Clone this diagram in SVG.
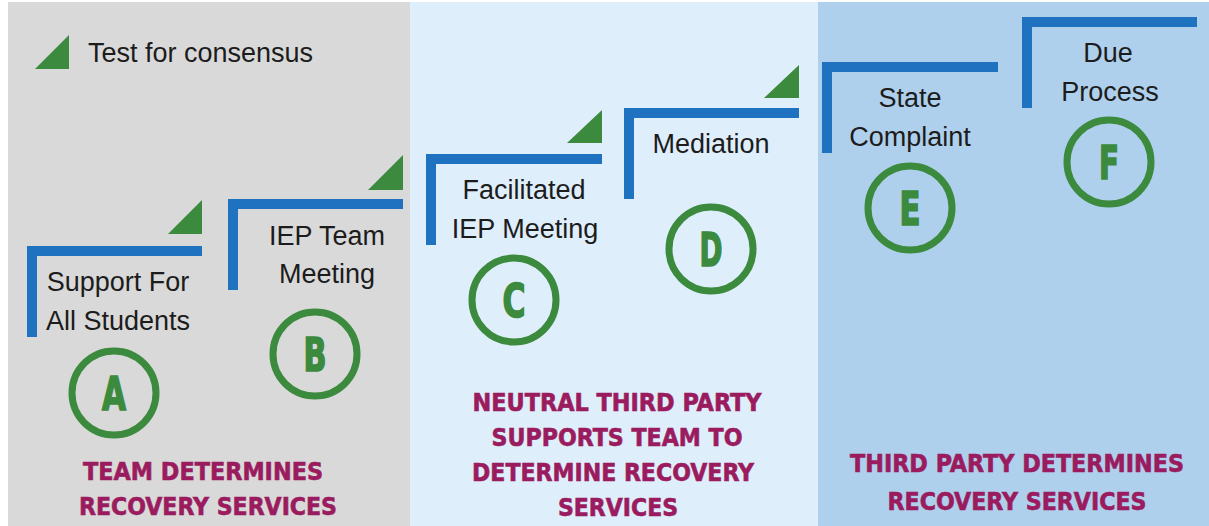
<svg xmlns="http://www.w3.org/2000/svg" width="1209" height="526" viewBox="0 0 1209 526">
<style>
.bar{fill:#1f72c0}
.tri{fill:#3b8a3e}
.ring{fill:none;stroke:#3b8a3e;stroke-width:7}
.lbl{font-family:"Liberation Sans",Arial,sans-serif;font-size:27px;fill:#1c1c1c;text-anchor:middle}
.let{font-family:"DejaVu Sans",sans-serif;font-weight:bold;font-stretch:condensed;font-size:46px;fill:#3b8a3e;stroke:#3b8a3e;stroke-width:1.6;text-anchor:middle}
.cap{font-family:"DejaVu Sans",sans-serif;font-weight:bold;font-stretch:condensed;font-size:25px;fill:#9a1c5f;stroke:#9a1c5f;stroke-width:0.6;text-anchor:middle}
</style>
<rect x="0" y="0" width="1209" height="526" fill="#ffffff"/>
<rect x="8" y="2" width="402" height="524" fill="#d9d9d9"/>
<rect x="410" y="2" width="408" height="524" fill="#dfeefb"/>
<rect x="818" y="2" width="391" height="524" fill="#afd0ec"/>
<g id="legend">
<polygon class="tri" points="35,69 69,69 69,35"/>
<text x="88" y="62" style="font-family:'Liberation Sans',Arial,sans-serif;font-size:27px;fill:#1c1c1c">Test for consensus</text>
</g>
<g id="step-A">
<path class="bar" d="M27,246 H202 V256 H37 V337 H27 Z"/>
<polygon class="tri" points="168,234 202,234 202,200"/>
<text class="lbl" x="118" y="291">Support For</text>
<text class="lbl" x="118" y="330">All Students</text>
<circle class="ring" cx="114" cy="393" r="42"/>
<text class="let" x="114" y="410" textLength="24" lengthAdjust="spacingAndGlyphs">A</text>
</g>
<g id="step-B">
<path class="bar" d="M228,199 H403 V209 H238 V290 H228 Z"/>
<polygon class="tri" points="368,190 403,190 403,155"/>
<text class="lbl" x="327" y="245">IEP Team</text>
<text class="lbl" x="327" y="283">Meeting</text>
<circle class="ring" cx="315" cy="354" r="42"/>
<text class="let" x="315" y="371" textLength="23" lengthAdjust="spacingAndGlyphs">B</text>
</g>
<g id="step-C">
<path class="bar" d="M426,154 H602 V164 H436 V245 H426 Z"/>
<polygon class="tri" points="567,143 602,143 602,110"/>
<text class="lbl" x="524" y="199">Facilitated</text>
<text class="lbl" x="525" y="238">IEP Meeting</text>
<circle class="ring" cx="514" cy="300" r="42"/>
<text class="let" x="514" y="317" textLength="23" lengthAdjust="spacingAndGlyphs">C</text>
</g>
<g id="step-D">
<path class="bar" d="M624,108 H799 V118 H634 V199 H624 Z"/>
<polygon class="tri" points="764,98 799,98 799,65"/>
<text class="lbl" x="711" y="153">Mediation</text>
<circle class="ring" cx="711" cy="249" r="42"/>
<text class="let" x="711" y="266" textLength="23" lengthAdjust="spacingAndGlyphs">D</text>
</g>
<g id="step-E">
<path class="bar" d="M822,62 H998 V72 H832 V153 H822 Z"/>
<text class="lbl" x="910" y="107">State</text>
<text class="lbl" x="910" y="146">Complaint</text>
<circle class="ring" cx="910" cy="208" r="42"/>
<text class="let" x="910" y="225" textLength="21" lengthAdjust="spacingAndGlyphs">E</text>
</g>
<g id="step-F">
<path class="bar" d="M1022,17 H1197 V27 H1032 V108 H1022 Z"/>
<text class="lbl" x="1108" y="62">Due</text>
<text class="lbl" x="1110" y="101">Process</text>
<circle class="ring" cx="1109" cy="162" r="42"/>
<text class="let" x="1109" y="179" textLength="20" lengthAdjust="spacingAndGlyphs">F</text>
</g>
<g id="caption-team">
<text class="cap" x="203" y="480" textLength="240" lengthAdjust="spacingAndGlyphs">TEAM DETERMINES</text>
<text class="cap" x="208" y="515" textLength="258" lengthAdjust="spacingAndGlyphs">RECOVERY SERVICES</text>
</g>
<g id="caption-neutral">
<text class="cap" x="617" y="411" textLength="289" lengthAdjust="spacingAndGlyphs">NEUTRAL THIRD PARTY</text>
<text class="cap" x="617" y="446" textLength="251" lengthAdjust="spacingAndGlyphs">SUPPORTS TEAM TO</text>
<text class="cap" x="613" y="481" textLength="282" lengthAdjust="spacingAndGlyphs">DETERMINE RECOVERY</text>
<text class="cap" x="618" y="516" textLength="120" lengthAdjust="spacingAndGlyphs">SERVICES</text>
</g>
<g id="caption-third">
<text class="cap" x="1017" y="472" textLength="334" lengthAdjust="spacingAndGlyphs">THIRD PARTY DETERMINES</text>
<text class="cap" x="1017" y="510" textLength="259" lengthAdjust="spacingAndGlyphs">RECOVERY SERVICES</text>
</g>
</svg>
